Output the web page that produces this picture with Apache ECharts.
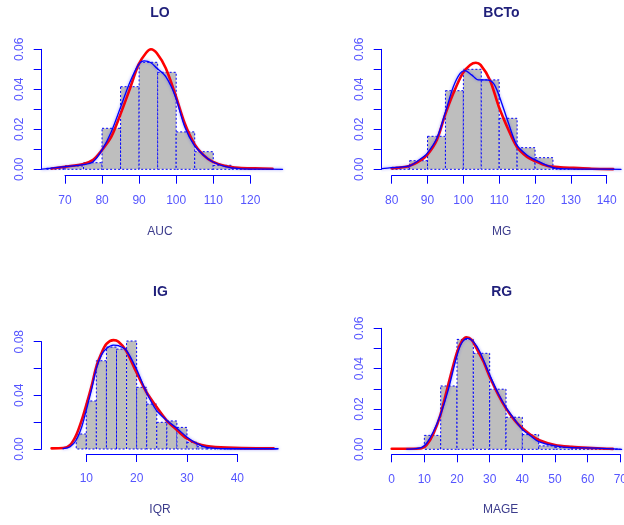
<!DOCTYPE html>
<html>
<head>
<meta charset="utf-8">
<script src="https://cdn.jsdelivr.net/npm/echarts@6/dist/echarts.min.js"></script>
<style>
  html, body { margin: 0; padding: 0; background: #ffffff; }
  #chart { width: 624px; height: 525px; }
</style>
</head>
<body>
<div id="chart"></div>
<script>
// ---- LO : AUC ----
const loBreaks = [65, 70, 75, 80, 85, 90, 95, 100, 105, 110, 115, 120, 125];
const loDensity = [0.0005, 0.0017, 0.0033, 0.0205, 0.0413, 0.0535, 0.0485, 0.0187, 0.0088, 0.0020, 0.0005, 0.0003];
const loFit = [[66.4,0.0004],[70,0.0013],[75,0.0027],[77.6,0.0047],[80,0.0097],[82.5,0.0163],[84.9,0.0272],[87.4,0.0397],[89.8,0.0522],[91.9,0.0583],[93.2,0.0600],[94.8,0.0580],[97.2,0.0505],[99.8,0.0372],[102.3,0.0230],[104.8,0.0130],[107.3,0.0072],[109.8,0.0038],[113.3,0.0017],[116.9,0.0008],[121.3,0.0005],[126,0.0003]];
const loKde = [[63.8,0.0001],[65.1,0.0003],[70,0.0013],[75,0.0023],[77.6,0.0038],[80,0.0097],[82.5,0.0188],[84.9,0.0305],[87.4,0.0430],[89.8,0.0522],[91.4,0.0542],[93.2,0.0533],[94.8,0.0505],[97.2,0.0463],[99.8,0.0363],[102.3,0.0213],[104.8,0.0122],[107.3,0.0072],[109.8,0.0038],[113.3,0.0013],[116.9,0.0003],[121,0.0001],[128.7,0]];

// ---- BCTo : MG ----
const mgBreaks = [80, 85, 90, 95, 100, 105, 110, 115, 120, 125, 130, 135, 140];
const mgDensity = [0.0010, 0.0043, 0.0165, 0.0393, 0.0500, 0.0447, 0.0255, 0.0108, 0.0058, 0.0004, 0.0003, 0.0002];
const mgFit = [[80,0.0005],[84.9,0.0017],[87.9,0.0043],[89.9,0.0072],[92.6,0.0147],[94.9,0.0272],[97.2,0.0380],[99.8,0.0480],[101.9,0.0522],[103.5,0.0533],[104.8,0.0522],[107.4,0.0447],[109.9,0.0313],[112.6,0.0197],[114.9,0.0113],[117.7,0.0063],[119.8,0.0043],[123.3,0.0018],[127,0.0010],[130.7,0.0007],[135.8,0.0003],[141.8,0.0001]];
const mgKde = [[77.3,0.0003],[80,0.0008],[84.9,0.0017],[87.9,0.0050],[89.9,0.0080],[92.6,0.0155],[94.9,0.0280],[97.2,0.0413],[99.1,0.0480],[100.5,0.0493],[102.3,0.0472],[104.2,0.0447],[106.5,0.0447],[108.4,0.0430],[109.9,0.0372],[112.6,0.0230],[114.9,0.0122],[117.7,0.0072],[120.5,0.0043],[123.3,0.0020],[126,0.0005],[128.8,0.0002],[135,0.0001],[144,0]];

// ---- IG : IQR ----
const iqrBreaks = [8, 10, 12, 14, 16, 18, 20, 22, 24, 26, 28, 30, 32, 34, 36, 38, 40, 42, 44, 46, 48];
const iqrDensity = [0.0112, 0.0358, 0.0658, 0.0760, 0.0745, 0.0805, 0.0460, 0.0335, 0.0199, 0.0209, 0.0161, 0.0050, 0.0017, 0.0007, 0.0003, 0.0002, 0.0001, 0.0001, 0.0001, 0.0001];
const iqrFit = [[3.1,0.0005],[5.4,0.0007],[6.8,0.0030],[8,0.0104],[9.1,0.0216],[10,0.0328],[11.1,0.0477],[12,0.0614],[13,0.0713],[14,0.0783],[15.4,0.0812],[16.4,0.0800],[17.9,0.0733],[19.9,0.0576],[21.9,0.0427],[23.9,0.0316],[25.9,0.0216],[28,0.0142],[29.9,0.0080],[31.9,0.0042],[33.9,0.0022],[37.9,0.0010],[43.8,0.0005],[47.2,0.0005]];
const iqrKde = [[5.4,0.0002],[6.8,0.0017],[8,0.0067],[9.1,0.0166],[10,0.0290],[11.1,0.0452],[12,0.0601],[13,0.0700],[14,0.0750],[15.4,0.0775],[16.4,0.0770],[17.9,0.0738],[19.9,0.0601],[21.9,0.0427],[23.9,0.0290],[25.9,0.0216],[28,0.0154],[29.9,0.0092],[31.9,0.0042],[33.9,0.0012],[37.9,0.0002],[48.1,0.0002]];

// ---- RG : MAGE ----
const mageBreaks = [10, 15, 20, 25, 30, 35, 40, 45, 50, 55, 60, 65, 70];
const mageDensity = [0.0069, 0.0314, 0.0545, 0.0476, 0.0298, 0.0159, 0.0073, 0.0017, 0.0010, 0.0005, 0.0003, 0.0001];
const mageFit = [[0,0.0003],[6.6,0.0003],[9.2,0.0005],[10.7,0.0021],[12.8,0.0079],[14.9,0.0170],[17.3,0.0319],[19.9,0.0476],[21.4,0.0534],[22.9,0.0555],[24.5,0.0542],[26,0.0500],[28.1,0.0435],[30,0.0360],[32.7,0.0269],[35,0.0203],[37.6,0.0145],[40,0.0104],[42.6,0.0071],[45,0.0046],[50,0.0021],[55.1,0.0012],[60,0.0007],[65.8,0.0003],[67.7,0.0002]];
const mageKde = [[4.6,0.0001],[6.6,0.0002],[9.2,0.0010],[10.7,0.0030],[12.8,0.0088],[14.9,0.0170],[17.3,0.0294],[19.9,0.0460],[21.4,0.0526],[23.2,0.0550],[25,0.0534],[27,0.0484],[30,0.0369],[32.7,0.0274],[35,0.0208],[37.6,0.0149],[40,0.0099],[42.6,0.0066],[45,0.0038],[50,0.0017],[55.1,0.0008],[60,0.0007],[67.9,0.0002],[70.4,0]];

const panelTitles = ['LO', 'BCTo', 'IG', 'RG'];
const axisTitles = ['AUC', 'MG', 'IQR', 'MAGE'];

// Per panel: the tick box (pixel rect covering the labelled tick range),
// tick range [min, max, step], y tick range [max, step, label every n hundredths],
// and the wider data range drawn in a hidden-axis grid on the same scale.
const panels = [
  { breaks: loBreaks, dens: loDensity, fit: loFit, kde: loKde,
    box: { left: 65.0, top: 49.3, width: 185.3, height: 120 },
    x: [70, 120, 10], y: [0.06, 0.01, 2], xData: [63.5, 129.5], yTop: 0.07,
    xOff: 6.4, yOff: 23.3, title: [160, 12.8], name: [160, 231.7] },
  { breaks: mgBreaks, dens: mgDensity, fit: mgFit, kde: mgKde,
    box: { left: 391.7, top: 49.3, width: 215, height: 120 },
    x: [80, 140, 10], y: [0.06, 0.01, 2], xData: [77.2, 144.6], yTop: 0.07,
    xOff: 6.4, yOff: 10, title: [501.5, 13], name: [501.7, 231.7] },
  { breaks: iqrBreaks, dens: iqrDensity, fit: iqrFit, kde: iqrKde,
    box: { left: 86.3, top: 341.7, width: 151, height: 107.3 },
    x: [10, 40, 10], y: [0.08, 0.02, 4], xData: [1.1, 49.2], yTop: 0.09,
    xOff: 5, yOff: 44.6, title: [160.5, 292.3], name: [160, 510] },
  { breaks: mageBreaks, dens: mageDensity, fit: mageFit, kde: mageKde,
    box: { left: 391.7, top: 328.3, width: 228.6, height: 121 },
    x: [0, 70, 10], y: [0.06, 0.01, 2], xData: [-3.1, 71], yTop: 0.07,
    xOff: 5, yOff: 10, title: [501.7, 292], name: [500.7, 510] }
];

const FONT = 'Liberation Sans, Arial, sans-serif';
const AXIS_BLUE = '#0000ff';
const TICK_TEXT = '#5555ff';

function histItem(params, api) {
  const x0 = api.value(0), x1 = api.value(1), h = api.value(2);
  const a = api.coord([x0, h]);
  const b = api.coord([x1, 0]);
  return {
    type: 'rect',
    shape: { x: a[0], y: a[1], width: b[0] - a[0], height: b[1] - a[1] },
    style: { fill: '#bebebe', stroke: AXIS_BLUE, lineWidth: 1, lineDash: [2, 2] }
  };
}

const grids = [], xAxes = [], yAxes = [], series = [], graphics = [];
const n = panels.length;

// data grids (hidden axes) — indices 0..3
panels.forEach((p, i) => {
  const b = p.box;
  const sx = b.width / (p.x[1] - p.x[0]);
  const sy = b.height / p.y[0];
  const left = b.left + (p.xData[0] - p.x[0]) * sx;
  const right = b.left + (p.xData[1] - p.x[0]) * sx;
  const bottom = b.top + b.height;
  grids.push({ outerBoundsMode: 'none', containLabel: false,
               left: left, width: right - left, top: bottom - p.yTop * sy, height: p.yTop * sy });
  xAxes.push({ type: 'value', gridIndex: i, min: p.xData[0], max: p.xData[1], show: false });
  yAxes.push({ type: 'value', gridIndex: i, min: 0, max: p.yTop, show: false });

  const bins = p.dens.map((d, k) => [p.breaks[k], p.breaks[k + 1], d]);
  series.push({
    type: 'custom', xAxisIndex: i, yAxisIndex: i, renderItem: histItem,
    data: bins, clip: false, silent: true, z: 1,
    encode: { x: [0, 1], y: 2 }
  });
  series.push({
    type: 'line', xAxisIndex: i, yAxisIndex: i, data: p.fit, clip: false,
    showSymbol: false, symbol: 'none', smooth: 0.3, silent: true, z: 2,
    lineStyle: { color: '#ff0000', width: 2.6, cap: 'round', join: 'round' }
  });
  series.push({
    type: 'line', xAxisIndex: i, yAxisIndex: i, data: p.kde, clip: false,
    showSymbol: false, symbol: 'none', smooth: 0.3, silent: true, z: 3,
    lineStyle: { color: AXIS_BLUE, width: 1.3, cap: 'round', join: 'round',
                 shadowColor: 'rgba(40,40,255,0.55)', shadowBlur: 3 }
  });

  graphics.push({
    type: 'text', x: p.title[0], y: p.title[1], silent: true,
    style: { text: panelTitles[i], align: 'center', verticalAlign: 'middle',
             font: 'bold 14px ' + FONT, fill: '#1f1f7a' }
  });
  graphics.push({
    type: 'text', x: p.name[0], y: p.name[1], silent: true,
    style: { text: axisTitles[i], align: 'center', verticalAlign: 'middle',
             font: '12px ' + FONT, fill: '#3c3c8c' }
  });
});

// axis grids spanning only the labelled tick range — indices 4..7
panels.forEach((p, i) => {
  const g = n + i;
  grids.push(Object.assign({ outerBoundsMode: 'none', containLabel: false }, p.box));
  xAxes.push({
    type: 'value', gridIndex: g, min: p.x[0], max: p.x[1], interval: p.x[2],
    position: 'bottom', offset: p.xOff,
    axisLine: { show: true, onZero: false, lineStyle: { color: AXIS_BLUE, width: 1 } },
    axisTick: { show: true, length: 8, lineStyle: { color: AXIS_BLUE, width: 1 } },
    axisLabel: { color: TICK_TEXT, fontFamily: FONT, fontSize: 12, margin: 19, hideOverlap: false,
                 showMinLabel: true, showMaxLabel: true },
    splitLine: { show: false }
  });
  const step = p.y[2];
  yAxes.push({
    type: 'value', gridIndex: g, min: 0, max: p.y[0], interval: p.y[1],
    position: 'left', offset: p.yOff,
    axisLine: { show: true, onZero: false, lineStyle: { color: AXIS_BLUE, width: 1 } },
    axisTick: { show: true, length: 8, lineStyle: { color: AXIS_BLUE, width: 1 } },
    axisLabel: {
      color: TICK_TEXT, fontFamily: FONT, fontSize: 12, rotate: 90, margin: 16,
      formatter: v => (Math.round(v * 100) % step === 0 ? v.toFixed(2) : '')
    },
    splitLine: { show: false }
  });
});

const chart = echarts.init(document.getElementById('chart'), null, { renderer: 'canvas' });
chart.setOption({
  animation: false,
  backgroundColor: '#ffffff',
  grid: grids,
  xAxis: xAxes,
  yAxis: yAxes,
  series: series,
  graphic: graphics
});
</script>
</body>
</html>
